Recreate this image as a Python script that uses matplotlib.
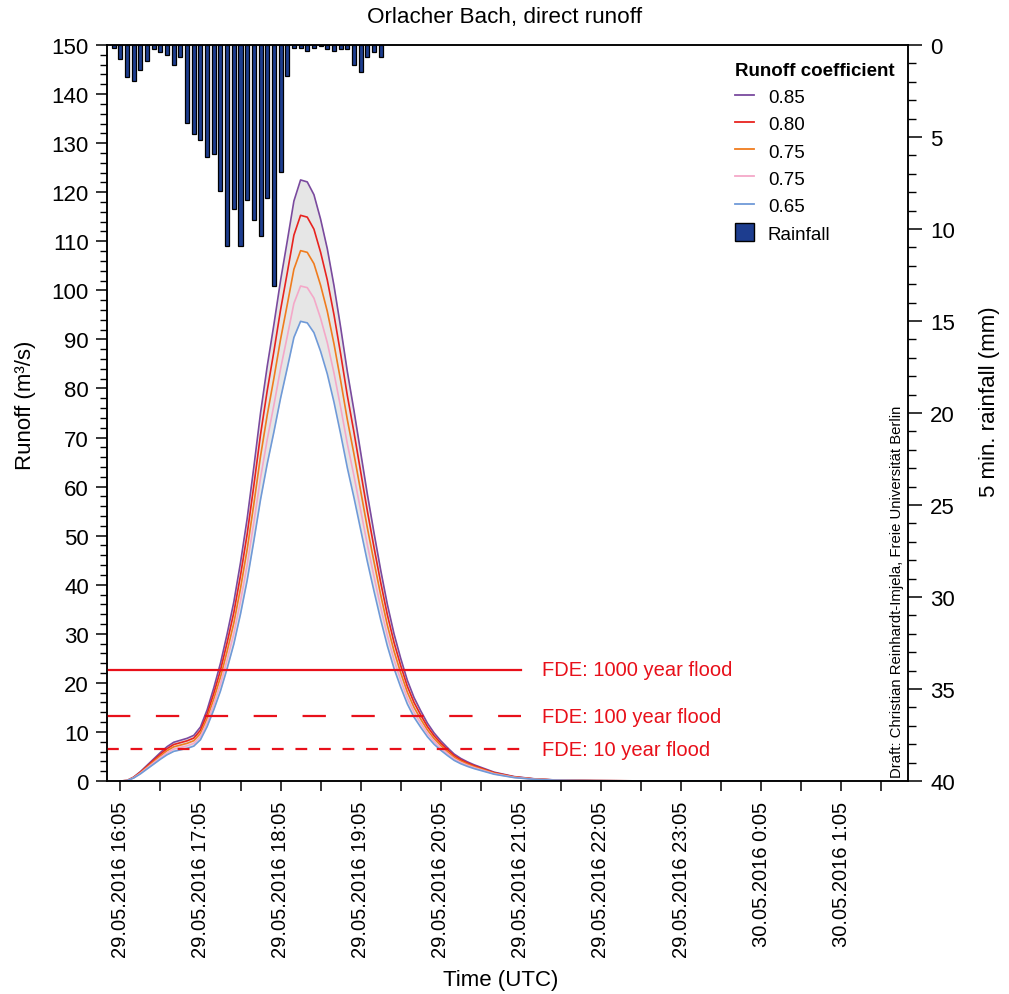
import matplotlib
matplotlib.use('Agg')
import matplotlib.pyplot as plt
import matplotlib.dates as mdates
from matplotlib.ticker import MultipleLocator
from matplotlib.lines import Line2D
from matplotlib.patches import Patch
import datetime as dt

plt.rcParams['font.family'] = ['Liberation Sans', 'DejaVu Sans']

# ---------------- data ----------------
title = "Orlacher Bach, direct runoff"

runoff_times = ["16:05", "16:10", "16:15", "16:20", "16:25", "16:30", "16:35", "16:40", "16:45", "16:50",
                "16:55", "17:00", "17:05", "17:10", "17:15", "17:20", "17:25", "17:30", "17:35", "17:40",
                "17:45", "17:50", "17:55", "18:00", "18:05", "18:10", "18:15", "18:20", "18:25", "18:30",
                "18:35", "18:40", "18:45", "18:50", "18:55", "19:00", "19:05", "19:10", "19:15", "19:20",
                "19:25", "19:30", "19:35", "19:40", "19:45", "19:50", "19:55", "20:00", "20:05", "20:10",
                "20:15", "20:20", "20:25", "20:30", "20:45", "21:00", "21:15", "21:30", "22:00", "22:30",
                "23:00", "23:30", "0:00", "0:25"]

runoff_085 = [0, 0.1, 0.8, 1.9, 3.2, 4.5, 5.8, 7.0, 7.9, 8.3,
              8.7, 9.3, 11.0, 14.5, 19.0, 24.0, 30.0, 36.5, 44.5, 53.5,
              64.0, 75.0, 84.5, 93.0, 102.0, 110.0, 118.2, 122.5, 122.1, 119.5,
              114.5, 108.5, 101.0, 92.5, 83.5, 75.5, 67.0, 58.5, 50.6, 43.0,
              36.0, 30.0, 25.0, 20.5, 17.0, 14.3, 11.8, 9.8, 8.2, 6.8,
              5.5, 4.6, 3.9, 3.3, 1.8, 0.9, 0.45, 0.22, 0.08, 0.03,
              0.02, 0.01, 0.01, 0.0]
runoff_080 = [0, 0.09, 0.75, 1.79, 3.01, 4.24, 5.46, 6.59, 7.44, 7.81,
              8.19, 8.75, 10.35, 13.65, 17.88, 22.59, 28.24, 34.35, 41.88, 50.35,
              60.24, 70.59, 79.53, 87.53, 96.0, 103.53, 111.25, 115.29, 114.92, 112.47,
              107.76, 102.12, 95.06, 87.06, 78.59, 71.06, 63.06, 55.06, 47.62, 40.47,
              33.88, 28.24, 23.53, 19.29, 16.0, 13.46, 11.11, 9.22, 7.72, 6.4,
              5.18, 4.33, 3.67, 3.11, 1.69, 0.85, 0.42, 0.21, 0.08, 0.03,
              0.02, 0.01, 0.01, 0.0]
runoff_075 = [0, 0.09, 0.71, 1.68, 2.82, 3.97, 5.12, 6.18, 6.97, 7.32,
              7.68, 8.21, 9.71, 12.79, 16.76, 21.18, 26.47, 32.21, 39.26, 47.21,
              56.47, 66.18, 74.56, 82.06, 90.0, 97.06, 104.3, 108.09, 107.74, 105.44,
              101.03, 95.74, 89.12, 81.62, 73.68, 66.62, 59.12, 51.62, 44.65, 37.94,
              31.76, 26.47, 22.06, 18.09, 15.0, 12.62, 10.41, 8.65, 7.24, 6.0,
              4.85, 4.06, 3.44, 2.91, 1.59, 0.79, 0.4, 0.19, 0.07, 0.03,
              0.02, 0.01, 0.01, 0.0]
runoff_070 = [0, 0.08, 0.66, 1.56, 2.64, 3.71, 4.78, 5.76, 6.51, 6.84,
              7.16, 7.66, 9.06, 11.94, 15.65, 19.76, 24.71, 30.06, 36.65, 44.06,
              52.71, 61.76, 69.59, 76.59, 84.0, 90.59, 97.34, 100.88, 100.55, 98.41,
              94.29, 89.35, 83.18, 76.18, 68.76, 62.18, 55.18, 48.18, 41.67, 35.41,
              29.65, 24.71, 20.59, 16.88, 14.0, 11.78, 9.72, 8.07, 6.75, 5.6,
              4.53, 3.79, 3.21, 2.72, 1.48, 0.74, 0.37, 0.18, 0.07, 0.02,
              0.02, 0.01, 0.01, 0.0]
runoff_065 = [0, 0.08, 0.61, 1.45, 2.45, 3.44, 4.44, 5.35, 6.04, 6.35,
              6.65, 7.11, 8.41, 11.09, 14.53, 18.35, 22.94, 27.91, 34.03, 40.91,
              48.94, 57.35, 64.62, 71.12, 78.0, 84.12, 90.39, 93.68, 93.37, 91.38,
              87.56, 82.97, 77.24, 70.74, 63.85, 57.74, 51.24, 44.74, 38.69, 32.88,
              27.53, 22.94, 19.12, 15.68, 13.0, 10.94, 9.02, 7.49, 6.27, 5.2,
              4.21, 3.52, 2.98, 2.52, 1.38, 0.69, 0.34, 0.17, 0.06, 0.02,
              0.02, 0.01, 0.01, 0.0]

series_labels = ["0.85", "0.80", "0.75", "0.75", "0.65"]
series_colors = ["#7a4a9e", "#e8231f", "#f07c1e", "#f4a8c8", "#6f9ad8"]

rain_times = ["16:00", "16:05", "16:10", "16:15", "16:20", "16:25", "16:30", "16:35", "16:40", "16:45",
              "16:50", "16:55", "17:00", "17:05", "17:10", "17:15", "17:20", "17:25", "17:30", "17:35",
              "17:40", "17:45", "17:50", "17:55", "18:00", "18:05", "18:10", "18:15", "18:20", "18:25",
              "18:30", "18:35", "18:40", "18:45", "18:50", "18:55", "19:00", "19:05", "19:10", "19:15",
              "19:20"]
rain_mm = [0.14, 0.76, 1.74, 1.95, 1.37, 0.87, 0.24, 0.38, 0.54, 1.10,
           0.65, 4.25, 4.85, 5.15, 6.08, 5.95, 7.96, 10.9, 8.9, 10.9,
           8.4, 9.5, 10.4, 8.3, 13.1, 6.9, 1.7, 0.18, 0.18, 0.33,
           0.18, 0.07, 0.22, 0.31, 0.22, 0.22, 1.08, 1.46, 0.67, 0.38,
           0.65]

fde_levels = [22.7, 13.2, 6.5]
fde_labels = ["FDE: 1000 year flood", "FDE: 100 year flood", "FDE: 10 year flood"]
fde_end = "21:05"
fde_text_x = "21:21"

xlim_times = ["15:55", "1:55"]
credit = "Draft: Christian Reinhardt-Imjela, Freie Universität Berlin"


def tm(s):
    h, m = map(int, s.split(':'))
    day = 29 if h >= 12 else 30
    return dt.datetime(2016, 5, day, h, m)


# ---------------- figure ----------------
fig = plt.figure(figsize=(10.09, 9.95), dpi=100)
L, R, B, T = 107 / 1009, 908 / 1009, 1 - 782 / 995, 1 - 46 / 995
ax = fig.add_axes([L, B, R - L, T - B])
ax2 = ax.twinx()

tx = [tm(s) for s in runoff_times]
all_series = [runoff_085, runoff_080, runoff_075, runoff_070, runoff_065]

ax.fill_between(tx, runoff_065, runoff_085, color="#e6e6e6", zorder=1, linewidth=0)
for vals, c in zip(all_series, series_colors):
    ax.plot(tx, vals, color=c, lw=1.2, zorder=2)

x0 = tm(xlim_times[0])
x1 = tm(fde_end)
styles = [dict(ls='-'), dict(ls=(0, (10.5, 11.5))), dict(ls=(0, (5.3, 5.3)))]
for lev, lab, st in zip(fde_levels, fde_labels, styles):
    ax.plot([x0, x1], [lev, lev], color="#e8101a", lw=1.6, zorder=3, **st)
    ax.text(tm(fde_text_x), lev, lab, color="#e8101a", fontsize=14.5, va='center', ha='left', zorder=4)

ax.set_xlim(tm(xlim_times[0]), tm(xlim_times[1]))
ax.set_ylim(0, 150)

# x ticks every 30 min, labels on the hour ticks
xt = [tm("16:05") + dt.timedelta(minutes=30 * i) for i in range(20)]
xl = [f"{d:%d.%m.%Y} {d.hour}:{d:%M}" if i % 2 == 0 else "" for i, d in enumerate(xt)]
ax.set_xticks(xt)
ax.set_xticklabels(xl, rotation=90, ha='center', fontsize=14.5)
ax.tick_params(axis='x', direction='out', length=7, width=1.1, pad=7)

ax.set_yticks(range(0, 151, 10))
ax.yaxis.set_minor_locator(MultipleLocator(2))
ax.tick_params(axis='y', which='major', direction='out', length=8, width=1.1, labelsize=16, pad=5)
ax.tick_params(axis='y', which='minor', direction='out', length=5, width=1.0)

# rainfall bars on inverted right axis
rt = [tm(s) for s in rain_times]
ax2.bar(rt, rain_mm, width=3.0 / 1440, bottom=0, color="#1d3d8f", edgecolor="black", linewidth=0.9, zorder=2)
ax2.set_ylim(40, 0)
ax2.set_yticks(range(0, 41, 5))
ax2.yaxis.set_minor_locator(MultipleLocator(1))
ax2.tick_params(axis='y', which='major', direction='out', length=10, width=1.1, labelsize=16, pad=6)
ax2.tick_params(axis='y', which='minor', direction='out', length=6, width=1.0)

for a in (ax, ax2):
    for sp in a.spines.values():
        sp.set_linewidth(1.1)

ax.text(0.986, 0.006, credit, rotation=90, ha='center', va='bottom', fontsize=10.7, transform=ax.transAxes)

# legend
handles = [Line2D([], [], color=c, lw=1.3) for c in series_colors]
handles.append(Patch(facecolor="#1d3d8f", edgecolor="black", linewidth=1.0))
labels = series_labels + ["Rainfall"]
leg = ax2.legend(handles, labels, title="Runoff coefficient", loc='upper left',
                 bbox_to_anchor=((735 - 107) / 801, 1 - (63 - 46) / 736),
                 frameon=False, fontsize=13.5, title_fontproperties={'weight': 'bold', 'size': 13.5},
                 handlelength=1.0, handleheight=1.1, handletextpad=0.75, labelspacing=0.42,
                 borderpad=0, borderaxespad=0, alignment='left')

fig.text(505 / 1009, 1 - 18 / 995, title, ha='center', va='center', fontsize=16.2)
fig.text(501 / 1009, 1 - 981 / 995, "Time (UTC)", ha='center', va='center', fontsize=16)
fig.text(26 / 1009, 1 - 405 / 995, "Runoff (m³/s)", ha='center', va='center', rotation=90, fontsize=16)
fig.text(990 / 1009, 1 - 402 / 995, "5 min. rainfall (mm)", ha='center', va='center', rotation=90, fontsize=16)

fig.savefig("out.png", dpi=100)
